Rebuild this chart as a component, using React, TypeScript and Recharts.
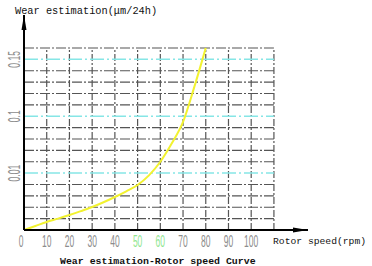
import * as React from 'react';
import { LineChart, Line, XAxis, YAxis, ReferenceLine } from 'recharts';

// rotor speed (rpm) and wear on the chart's grid-row scale (0.01 at row 5, 0.1 at row 10, 0.15 at row 15)
const rpm = [0, 5, 10, 15, 20, 25, 30, 35, 40, 45, 50, 55, 60, 65, 70, 75, 80];
const wear = [0, 0.35, 0.7, 1.0, 1.32, 1.66, 2.02, 2.44, 2.9, 3.4, 3.96, 4.8, 6.0, 7.6, 9.5, 12.6, 16];

const xTicks = [0, 10, 20, 30, 40, 50, 60, 70, 80, 90, 100];
const greenTicks = [50, 60];
const yTicks = [5, 10, 15];
const yTickLabels = ['0.01', '0.1', '0.15'];

const grayRows = [1, 2, 3, 4, 6, 7, 8, 9, 11, 12, 13, 14, 16];
const cyanRows = [5, 10, 15];
const gridCols = [10, 20, 30, 40, 50, 60, 70, 80, 90, 100, 110];

const data = rpm.map((r, i) => ({ rpm: r, wear: wear[i] }));

const tickFont = { fontFamily: 'Liberation Sans', fontSize: 17 };

function XTick({ x, y, payload }: any) {
  const green = greenTicks.includes(payload.value);
  return (
    <text
      transform={`translate(${x - (payload.value === 0 ? 3 : 0)},${y + 9}) scale(0.5,1)`}
      textAnchor="middle"
      fill={green ? '#8fe68f' : '#8c8c8c'}
      style={tickFont}
    >
      {payload.value}
    </text>
  );
}

function YTick({ y, payload }: any) {
  const idx = yTicks.indexOf(payload.value);
  return (
    <text
      transform={`translate(14,${y}) rotate(-90) scale(0.5,1)`}
      textAnchor="middle"
      dominantBaseline="central"
      fill="#8c8c8c"
      style={tickFont}
    >
      {yTickLabels[idx]}
    </text>
  );
}

const labelStyle = { fontFamily: 'Liberation Mono', fill: '#111' };

export default function App() {
  return (
    <div style={{ position: 'absolute', left: 0, top: 0, width: 372, height: 266, background: '#fff' }}>
      <svg width={0} height={0} style={{ position: 'absolute' }}>
        <defs>
          <marker id="arrow" markerUnits="userSpaceOnUse" markerWidth={16} markerHeight={8} refX={15} refY={4} orient="auto-start-reverse">
            <path d="M0,1.5 L15,4 L0,6.5 Z" fill="#000" />
          </marker>
        </defs>
      </svg>
      <LineChart width={372} height={266} data={data} margin={{ top: 15, right: 64, bottom: 0, left: 0 }}>
        {grayRows.map((r) => (
          <ReferenceLine key={'h' + r} segment={[{ x: 0, y: r }, { x: 110, y: r }]} stroke="#555" strokeWidth={1.2} strokeDasharray="10 2 2 2" />
        ))}
        {gridCols.map((c) => (
          <ReferenceLine key={'v' + c} segment={[{ x: c, y: 0 }, { x: c, y: 16 }]} stroke="#555" strokeWidth={1.2} strokeDasharray="7 2 2 2" />
        ))}
        {cyanRows.map((r) => (
          <ReferenceLine key={'c' + r} segment={[{ x: 0, y: r }, { x: 110, y: r }]} stroke="#86e6e6" strokeWidth={1.5} strokeDasharray="14 3 2 3" />
        ))}
        <XAxis
          dataKey="rpm"
          type="number"
          domain={[0, 125]}
          ticks={xTicks}
          interval={0}
          height={36}
          tickLine={false}
          tick={<XTick />}
          axisLine={{ stroke: '#000', strokeWidth: 2, markerEnd: 'url(#arrow)' }}
        />
        <YAxis
          type="number"
          domain={[0, 18.9]}
          ticks={yTicks}
          interval={0}
          width={24}
          tickLine={false}
          tick={<YTick />}
          axisLine={{ stroke: '#000', strokeWidth: 2, markerStart: 'url(#arrow)' }}
        />
        <Line dataKey="wear" type="monotone" stroke="#f2f230" strokeWidth={2} dot={false} isAnimationActive={false} />
      </LineChart>
      <svg width={372} height={266} style={{ position: 'absolute', left: 0, top: 0, pointerEvents: 'none' }}>
        <text x={15} y={14} style={{ ...labelStyle, fontSize: 10.3 }}>Wear estimation(μm/24h)</text>
        <text x={273} y={244} style={{ ...labelStyle, fontSize: 9.7 }}>Rotor speed(rpm)</text>
        <text x={60} y={264} style={{ ...labelStyle, fontSize: 9.9, fontWeight: 'bold' }}>Wear estimation-Rotor speed Curve</text>
      </svg>
    </div>
  );
}
